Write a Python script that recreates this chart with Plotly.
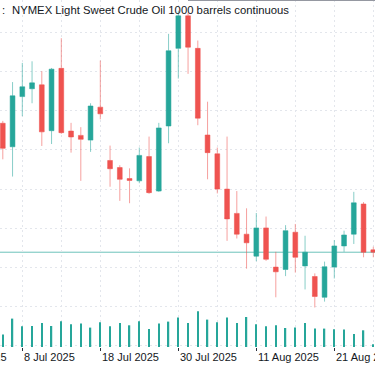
import plotly.graph_objects as go

# ---- data -------------------------------------------------------------
dates = ["3 Jul", "7 Jul", "8 Jul", "9 Jul", "10 Jul", "11 Jul", "14 Jul", "15 Jul",
         "16 Jul", "17 Jul", "18 Jul", "21 Jul", "22 Jul", "23 Jul", "24 Jul", "25 Jul",
         "28 Jul", "29 Jul", "30 Jul", "31 Jul", "1 Aug", "4 Aug", "5 Aug", "6 Aug",
         "7 Aug", "8 Aug", "11 Aug", "12 Aug", "13 Aug", "14 Aug", "15 Aug", "18 Aug",
         "19 Aug", "20 Aug", "21 Aug", "22 Aug", "25 Aug", "26 Aug", "27 Aug"]
bar_index = list(range(-2, 37))

open_ = [67.68, 67.08, 68.36, 68.56, 68.66, 67.49, 69.08, 67.48, 67.37, 67.25,
         68.09, 66.73, 66.55, 66.27, 66.21, 66.83, 65.95, 67.61, 69.59, 70.42,
         69.59, 67.38, 66.90, 66.00, 65.38, 64.85, 64.29, 65.01, 64.01, 63.95,
         64.90, 64.04, 63.77, 63.24, 64.01, 64.55, 64.85, 65.62, 64.45]
high = [67.74, 68.73, 69.22, 69.26, 69.01, 69.09, 69.85, 67.69, 67.58, 68.19,
        69.28, 67.11, 66.61, 66.53, 67.06, 67.34, 67.69, 69.96, 70.54, 70.50,
        69.79, 68.23, 67.06, 67.34, 65.95, 65.51, 65.39, 65.30, 64.40, 65.08,
        65.11, 64.81, 63.85, 64.15, 64.70, 64.94, 65.93, 65.67, 64.53]
low = [66.76, 66.32, 67.86, 68.19, 67.10, 67.15, 67.41, 66.93, 66.21, 66.95,
       67.78, 66.06, 65.70, 65.64, 66.15, 65.88, 65.93, 67.17, 68.82, 68.94,
       67.63, 66.25, 65.89, 64.68, 64.74, 63.97, 64.16, 64.17, 63.24, 63.78,
       63.87, 63.44, 62.98, 63.13, 63.72, 64.40, 64.60, 64.26, 64.26]
close = [67.04, 68.38, 68.61, 68.71, 67.46, 69.06, 67.44, 67.33, 67.27, 68.12,
         67.92, 66.52, 66.25, 66.22, 66.86, 65.91, 67.56, 69.53, 70.42, 69.62,
         67.81, 66.93, 66.00, 65.24, 64.85, 64.63, 65.01, 64.21, 63.89, 64.94,
         64.26, 64.39, 63.26, 64.02, 64.55, 64.83, 65.65, 64.39, 64.39]
volume = [124, 284, 207, 210, 240, 210, 257, 227, 234, 194,
          247, 207, 240, 217, 257, 180, 234, 254, 294, 240,
          357, 274, 247, 294, 240, 300, 227, 207, 217, 190,
          194, 240, 184, 184, 177, 174, 130, 167, 27]

last_price = 64.39
tick_index = [-8, 0, 8, 16, 24, 32]
tick_labels = ["25 Jun 2025", "8 Jul 2025", "18 Jul 2025", "30 Jul 2025",
               "11 Aug 2025", "21 Aug 2025"]
title_text = "NYMEX Light Sweet Crude Oil 1000 barrels continuous"

# ---- styling ------------------------------------------------------------
UP = "#26a69a"
DOWN = "#ef5350"
GRID = "#e3e6ec"
TEXT = "#131722"
FONT = "Liberation Sans, Arial"

X0, X1 = -2.287, 36.174
Y0, Y1 = 61.972, 70.824
VOL_MAX = 3470

fig = go.Figure()

fig.add_trace(go.Bar(
    x=bar_index, y=volume, yaxis="y2", width=0.14,
    marker=dict(color=UP, line=dict(width=0)), hoverinfo="skip", showlegend=False,
))

fig.add_trace(go.Candlestick(
    x=bar_index, open=open_, high=high, low=low, close=close,
    increasing=dict(fillcolor=UP, line=dict(color="rgba(38,166,154,0.55)", width=1)),
    decreasing=dict(fillcolor=DOWN, line=dict(color="rgba(239,83,80,0.55)", width=1)),
    whiskerwidth=0, showlegend=False, hovertext=dates,
))

fig.add_hline(y=last_price, line=dict(color="#6cc3ba", width=1), layer="below")

# thin pane border along the top edge (right part of the crop)
fig.add_shape(type="line", xref="paper", yref="paper",
              x0=188 / 375, x1=1, y0=1 - 0.5 / 347, y1=1 - 0.5 / 347,
              line=dict(color="#9598a1", width=1))

def to_paper(i):
    return (i - X0) / (X1 - X0)

annotations = [
    dict(text=":", xref="paper", yref="paper", x=0.0, y=1, xanchor="left", yanchor="top",
         showarrow=False, font=dict(family=FONT, size=11.3, color=TEXT), yshift=-2),
    dict(text=title_text, xref="paper", yref="paper", x=10 / 375, y=1,
         xanchor="left", yanchor="top", showarrow=False,
         font=dict(family=FONT, size=11.3, color=TEXT), yshift=-2),
]
for ti, tl in zip(tick_index, tick_labels):
    annotations.append(dict(
        text=tl, xref="paper", yref="paper", x=to_paper(ti), y=0,
        xanchor="left", yanchor="top", showarrow=False, yshift=-2,
        font=dict(family=FONT, size=11, color=TEXT),
    ))

fig.update_layout(
    width=375, height=366,
    margin=dict(l=0, r=0, t=0, b=19),
    paper_bgcolor="white", plot_bgcolor="white",
    showlegend=False,
    annotations=annotations,
    xaxis=dict(
        range=[X0, X1], rangeslider=dict(visible=False),
        tickmode="array", tickvals=tick_index, showticklabels=False,
        ticks="outside", ticklen=3, tickcolor="#2a2e39", tickwidth=1,
        showgrid=True, gridcolor=GRID, griddash="2px,3px", gridwidth=1,
        minor=dict(tickmode="linear", tick0=0, dtick=4, showgrid=True,
                   gridcolor=GRID, griddash="2px,3px", gridwidth=1, ticks=""),
        zeroline=False, showline=False, fixedrange=True,
    ),
    yaxis=dict(
        range=[Y0, Y1], tickmode="linear", tick0=0, dtick=1,
        showticklabels=False, ticks="", showgrid=True, gridcolor=GRID,
        griddash="2px,3px", gridwidth=1, zeroline=False, showline=False,
        fixedrange=True,
    ),
    yaxis2=dict(
        range=[0, VOL_MAX], overlaying="y", visible=False, showgrid=False,
        fixedrange=True,
    ),
)

fig.write_html(
    "out.html",
    config={"displayModeBar": False},
    post_script="document.body.style.margin='0';document.body.style.overflow='hidden';",
)
